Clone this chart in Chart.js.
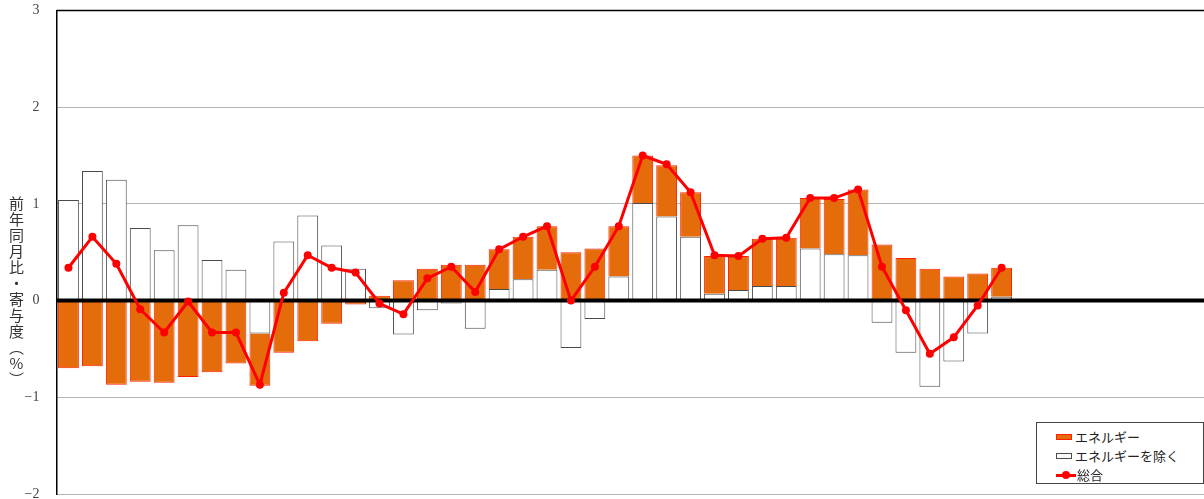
<!DOCTYPE html>
<html><head><meta charset="utf-8">
<script src="https://cdn.jsdelivr.net/npm/chart.js@4.4.1/dist/chart.umd.min.js"></script>
<style>
html,body{margin:0;padding:0;background:#fff;overflow:hidden;}
#wrap{position:relative;width:1209px;height:499px;}
#ytitle{position:absolute;left:8px;top:196px;writing-mode:vertical-rl;text-orientation:upright;font-family:"Noto Sans CJK JP";font-size:15px;line-height:16px;color:#333;letter-spacing:1px;}
#legend{position:absolute;left:1036px;top:422px;width:168px;height:62px;border:1px solid #444;background:#fff;box-sizing:border-box;font-family:"Noto Sans CJK JP";font-size:13px;color:#222;}
.row{position:absolute;left:19px;height:20px;line-height:20px;white-space:nowrap;}
.sw{display:inline-block;vertical-align:middle;width:16px;height:6px;box-sizing:border-box;margin-right:3px;position:relative;top:-1px;}
.ln{display:inline-block;vertical-align:middle;width:20px;height:3px;position:relative;top:-1px;margin-right:1px;}
.ln i{position:absolute;left:6px;top:-2.5px;width:8px;height:8px;border-radius:50%;}
</style></head>
<body>
<div id="wrap">
<canvas id="c"></canvas>
<div id="ytitle">前年同月比・寄与度（%）</div>
<div id="legend"></div>
</div>
<script>
const categories = Array.from({length: 48}, (_, i) => String(i + 1));
const energy = [-0.70,-0.68,-0.87,-0.84,-0.85,-0.79,-0.74,-0.65,-0.54,-0.54,-0.42,-0.24,-0.04,0.05,0.21,0.33,0.37,0.37,0.41,0.44,0.45,0.50,0.54,0.52,0.49,0.53,0.46,0.39,0.35,0.49,0.50,0.52,0.57,0.68,0.58,0.44,0.33,0.25,0.28,0.30];
const exEnergy = [1.04,1.34,1.25,0.75,0.52,0.78,0.42,0.32,-0.34,0.61,0.88,0.57,0.33,-0.08,-0.35,-0.10,-0.03,-0.29,0.12,0.22,0.32,-0.49,-0.19,0.25,1.01,0.87,0.66,0.07,0.11,0.15,0.15,0.54,0.48,0.47,-0.23,-0.54,-0.89,-0.63,-0.34,0.04];
const total = [0.34,0.66,0.38,-0.09,-0.33,-0.01,-0.33,-0.33,-0.87,0.08,0.47,0.34,0.29,-0.03,-0.14,0.23,0.35,0.09,0.53,0.66,0.77,0.00,0.35,0.77,1.50,1.41,1.12,0.47,0.46,0.64,0.65,1.06,1.06,1.15,0.35,-0.10,-0.55,-0.38,-0.05,0.34];
const yTicks = [-2,-1,0,1,2,3];
const labels = {energy:'エネルギー', exEnergy:'エネルギーを除く', total:'総合'};

const zeroLine = {
  id:'zeroLine',
  beforeDatasetsDraw(chart){
    const {ctx, chartArea:a} = chart;
    ctx.save(); ctx.strokeStyle='#000'; ctx.lineWidth=1.5;
    ctx.beginPath(); ctx.moveTo(a.left, a.top); ctx.lineTo(a.right, a.top); ctx.stroke();
    ctx.restore();
  },
  afterDatasetDraw(chart, args){
    if(args.index!==0) return;
    const {ctx, chartArea:a, scales:{y}} = chart;
    const p = y.getPixelForValue(0);
    ctx.save(); ctx.strokeStyle='#000'; ctx.lineWidth=4;
    ctx.beginPath(); ctx.moveTo(a.left, p); ctx.lineTo(a.right, p); ctx.stroke();
    ctx.restore();
  }
};

const chart = new Chart(document.getElementById('c'), {
  data:{
    labels: categories,
    datasets:[
      {type:'bar', label:labels.exEnergy, data:exEnergy, backgroundColor:'#ffffff', borderColor:'#4a4a4a', borderWidth:1, stack:'s', order:1, categoryPercentage:1, barPercentage:0.87},
      {type:'bar', label:labels.energy, data:energy, backgroundColor:'#E46C0A', borderColor:'#FF2000', borderWidth:1, stack:'s', order:1, categoryPercentage:1, barPercentage:0.87},
      {type:'line', label:labels.total, data:total, borderColor:'#FF0000', backgroundColor:'#FF0000', borderWidth:3, pointRadius:4, pointBackgroundColor:'#FF0000', pointBorderWidth:0, stack:'t', order:0, tension:0}
    ]
  },
  options:{
    responsive:true, maintainAspectRatio:false, animation:false,
    layout:{padding:{top:10.5, right:0, bottom:5, left:0}},
    plugins:{legend:{display:false}, tooltip:{enabled:false}},
    scales:{
      x:{display:false, stacked:true, grid:{display:false}},
      y:{
        stacked:true, min:-2, max:3,
        afterFit(s){ s.width = 56.5; s.paddingTop = 0; s.paddingBottom = 0; },
        afterBuildTicks(s){ s.ticks = yTicks.map(v=>({value:v})); },
        ticks:{padding:17, color:'#444', font:{family:'"Liberation Serif", "DejaVu Serif", serif', size:14}, callback:v=>String(v).replace('-', '−')},
        grid:{drawTicks:false, color:c=> (c.tick && (c.tick.value===0 || c.tick.value===3)) ? 'rgba(0,0,0,0)' : '#6a6a6a', lineWidth:1},
        border:{display:true, color:'#000', width:1.5, dash:[1,1]}
      }
    }
  },
  plugins:[zeroLine]
});

// HTML legend from dataset labels
const lg = document.getElementById('legend');
const ds = chart.data.datasets;
const items = [ds[1], ds[0], ds[2]];
items.forEach((d, i) => {
  const r = document.createElement('div');
  r.className = 'row'; r.style.top = (4 + i*19) + 'px';
  let sym;
  if (d.type === 'line') {
    sym = document.createElement('span'); sym.className = 'ln'; sym.style.background = d.borderColor;
    const dot = document.createElement('i'); dot.style.background = d.borderColor; sym.appendChild(dot);
  } else {
    sym = document.createElement('span'); sym.className = 'sw';
    sym.style.background = d.backgroundColor; sym.style.border = '1px solid ' + d.borderColor;
  }
  r.appendChild(sym);
  r.appendChild(document.createTextNode(d.label));
  lg.appendChild(r);
});
</script>
</body></html>
